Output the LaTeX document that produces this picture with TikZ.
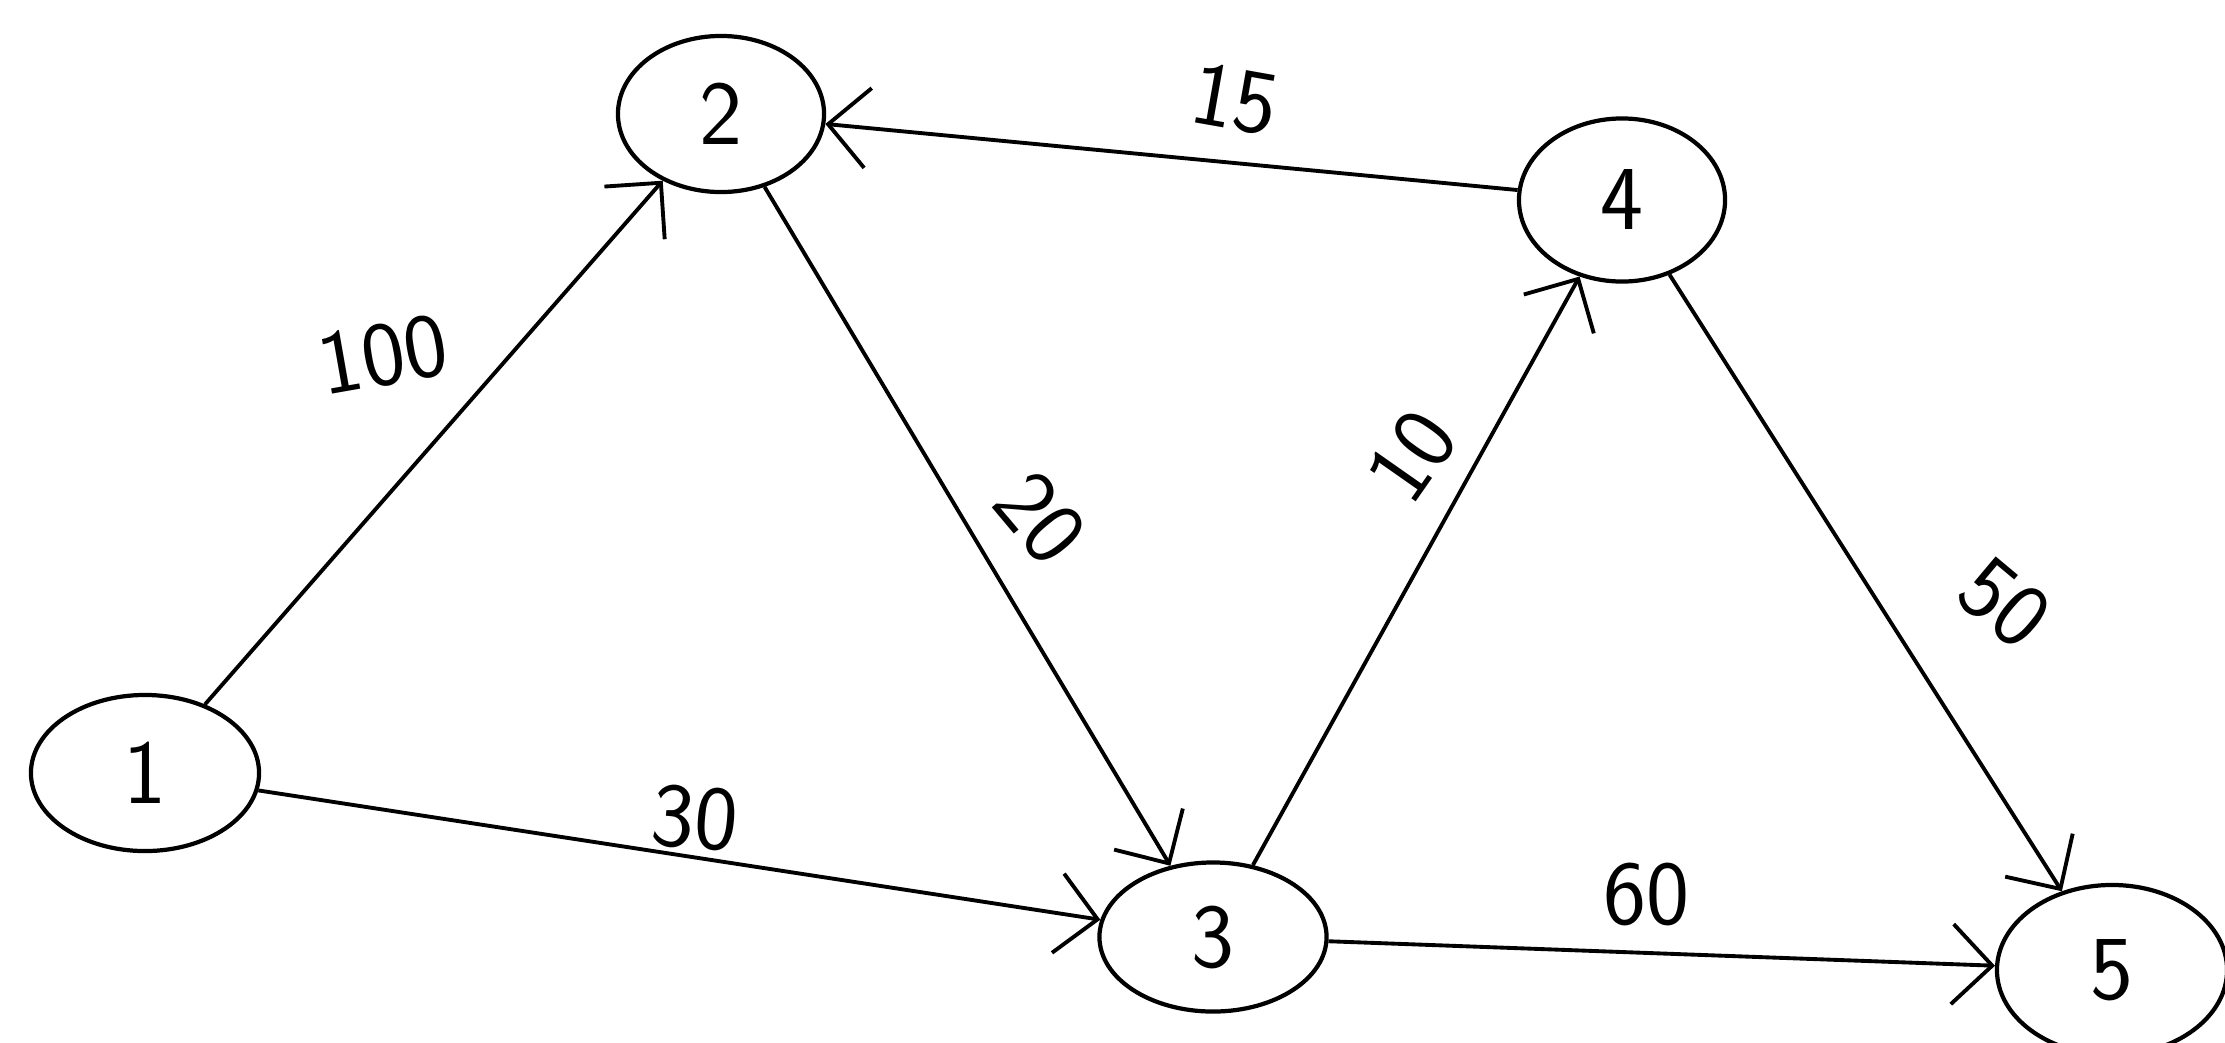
\documentclass[tikz,border=0pt]{standalone}
\usetikzlibrary{arrows.meta,shapes.geometric}
\begin{document}
\begin{tikzpicture}[x=0.01cm,y=-0.01cm,
  vtx/.style={draw,ellipse,line width=1.2pt,inner sep=0pt,font=\fontsize{26}{30}\selectfont\sffamily},
  edge/.style={draw,line width=1.1pt,-{Straight Barb[length=4mm,width=8mm,line width=1.1pt]}},
  wt/.style={font=\fontsize{26}{30}\selectfont\sffamily}]
\useasboundingbox (0,0) rectangle (2225,1042);
\node[vtx,minimum width=2.28cm,minimum height=1.56cm] (n1) at (145,773) {1};
\node[vtx,minimum width=2.06cm,minimum height=1.56cm] (n2) at (721,114) {2};
\node[vtx,minimum width=2.27cm,minimum height=1.49cm] (n3) at (1213,937) {3};
\node[vtx,minimum width=2.06cm,minimum height=1.63cm] (n4) at (1622,200) {4};
\node[vtx,minimum width=2.3cm,minimum height=1.7cm] (n5) at (2112,970) {5};
\draw[edge] (n1) -- (n2);
\draw[edge] (n1) -- (n3);
\draw[edge] (n2) -- (n3);
\draw[edge] (n4) -- (n2);
\draw[edge] (n3) -- (n4);
\draw[edge] (n4) -- (n5);
\draw[edge] (n3) -- (n5);
\node[wt,rotate=10] (w12) at (383,355) {100};
\node[wt,rotate=-5] (w13) at (695,818) {30};
\node[wt,rotate=-50] (w23) at (1040,518) {20};
\node[wt,rotate=-10] (w42) at (1235,99) {15};
\node[wt,rotate=55] (w34) at (1412,456) {10};
\node[wt,rotate=-40] (w45) at (2005,603) {50};
\node[wt] (w35) at (1646,894) {60};
\end{tikzpicture}
\end{document}
